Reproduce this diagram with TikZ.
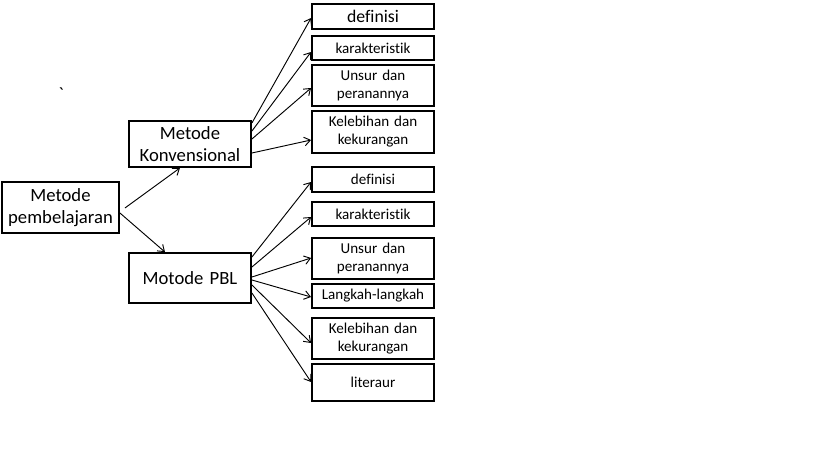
\documentclass[tikz,border=0pt]{standalone}
\usepackage{fontspec}
\setmainfont{Carlito}[Ligatures={TeX,NoCommon}]
\newfontfamily\tickfont{Carlito}[Ligatures=ResetAll]
\usetikzlibrary{calc,arrows.meta}
\begin{document}
\begin{tikzpicture}[x=0.75pt,y=-0.75pt,
  box/.style={draw=black,line width=1.4pt,inner sep=0pt,align=center,text width=#1},
  big/.style={box=110*0.75pt,font=\fontsize{14}{16.5}\selectfont},
  small/.style={box=118*0.75pt,minimum width=122*0.75pt,font=\fontsize{11.3}{13.5}\selectfont},
  arr/.style={line width=0.7pt,-{Straight Barb[length=4.5pt,width=6.5pt]}}]
\useasboundingbox (0,0) rectangle (819,460);
\node (tick) at (61,94) {\tickfont\fontsize{14}{16}\selectfont `};
% left
\node[big,minimum width=117*0.75pt,minimum height=51*0.75pt] (mp) at (60.5,207.5) {Metode\\pembelajaran};
\node[big,minimum width=122*0.75pt,minimum height=46*0.75pt] (mk) at (190,144) {Metode\\Konvensional};
\node[big,minimum width=122*0.75pt,minimum height=50*0.75pt] (pbl) at (190,278) {Motode PBL};
% top column
\node[small,minimum height=25*0.75pt,font=\fontsize{13.3}{15}\selectfont] (d1) at (373,16.5) {definisi};
\node[small,minimum height=24*0.75pt] (k1) at (373,48) {karakteristik};
\node[small,minimum height=41*0.75pt] (u1) at (373,85.5) {Unsur dan\\peranannya};
\node[small,minimum height=42*0.75pt] (kk1) at (373,132) {Kelebihan dan\\kekurangan};
% bottom column
\node[small,minimum height=25*0.75pt] (d2) at (373,179.5) {definisi};
\node[small,minimum height=24*0.75pt] (k2) at (373,214) {karakteristik};
\node[small,minimum height=41*0.75pt] (u2) at (373,258.5) {Unsur dan\\peranannya};
\node[small,minimum height=24*0.75pt] (l2) at (373,296) {Langkah-langkah};
\node[small,minimum height=41*0.75pt] (kk2) at (373,338.5) {Kelebihan dan\\kekurangan};
\node[small,minimum height=37*0.75pt] (lit) at (373,382.5) {literaur};
% arrows from root
\draw[arr] ($(mp.east)+(5,0.5)$) -- ($(mk.south)+(-10,0)$);
\draw[arr] ($(mp.east)+(0,5.5)$) -- ($(pbl.north)+(-25,0)$);
% arrows from Konvensional
\draw[arr] ($(mk.east)+(0,-21)$) -- ($(d1.west)+(0,1.5)$);
\draw[arr] ($(mk.east)+(0,-13)$) -- ($(k1.west)+(0,4)$);
\draw[arr] ($(mk.east)+(0,-5)$) -- ($(u1.west)+(0,2.5)$);
\draw[arr] ($(mk.east)+(0,9)$) -- ($(kk1.west)+(0,8)$);
% arrows from PBL
\draw[arr] ($(pbl.east)+(0,-21)$) -- ($(d2.west)+(0,2.5)$);
\draw[arr] ($(pbl.east)+(0,-11)$) -- ($(k2.west)+(0,3)$);
\draw[arr] ($(pbl.east)+(0,-1)$) -- ($(u2.west)+(0,-0.5)$);
\draw[arr] ($(pbl.east)+(0,2)$) -- ($(l2.west)+(0,1)$);
\draw[arr] ($(pbl.east)+(0,7)$) -- ($(kk2.west)+(0,4.5)$);
\draw[arr] ($(pbl.east)+(0,15)$) -- ($(lit.west)+(0,-0.5)$);
\end{tikzpicture}
\end{document}
